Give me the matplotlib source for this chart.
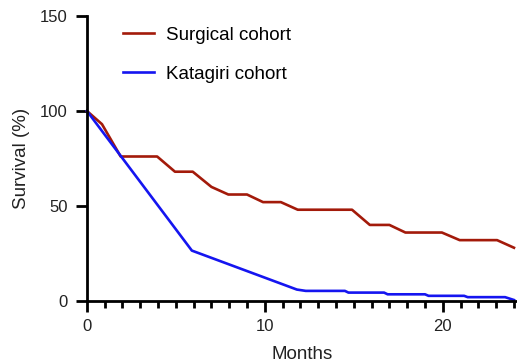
import matplotlib.pyplot as plt
from matplotlib.ticker import MultipleLocator

plt.rcParams['font.family'] = ['Liberation Sans', 'DejaVu Sans']

# Surgical cohort (red)
surg_months = [0, 0.85, 1.9, 3.95, 4.95, 5.95, 7.0, 7.95, 9.0, 9.9, 10.9, 11.85,
               14.9, 15.9, 17.0, 17.9, 19.95, 20.95, 23.05, 24.0]
surg_surv = [100, 93, 76, 76, 68, 68, 60, 56, 56, 52, 52, 48,
             48, 40, 40, 36, 36, 32, 32, 28]

# Katagiri cohort (blue)
kat_months = [0, 5.9, 11.8, 12.3, 14.5, 14.7, 16.7, 16.9, 19.0, 19.2, 21.2, 21.4,
              23.5, 24.0]
kat_surv = [100, 26.5, 6.0, 5.3, 5.3, 4.4, 4.4, 3.5, 3.5, 2.7, 2.7, 2.0,
            2.0, 0.5]

fig = plt.figure(figsize=(5.17, 3.6), dpi=100)
ax = fig.add_axes([0.168, 0.164, 0.832, 0.792])

ax.plot(surg_months, surg_surv, color='#a31a0a', lw=1.9, label='Surgical cohort', clip_on=False)
ax.plot(kat_months, kat_surv, color='#1515f0', lw=1.9, label='Katagiri cohort', clip_on=False)

ax.set_xlim(0, 24.17)
ax.set_ylim(0, 150)
ax.set_xticks([0, 10, 20])
ax.xaxis.set_minor_locator(MultipleLocator(1))
ax.set_yticks([0, 50, 100, 150])

for s in ['top', 'right']:
    ax.spines[s].set_visible(False)
for s in ['left', 'bottom']:
    ax.spines[s].set_linewidth(2)

ax.tick_params(axis='both', which='major', length=8, width=2, labelsize=12,
               colors='black', labelcolor='#222222')
ax.tick_params(axis='x', which='minor', length=5, width=2)
ax.tick_params(axis='x', which='major', pad=5)
ax.tick_params(axis='y', which='major', pad=6)

ax.set_xlabel('Months', fontsize=13.5, color='#222222', labelpad=8.5)
ax.set_ylabel('Survival (%)', fontsize=13.5, color='#222222', labelpad=7)

ax.legend(loc='upper left', bbox_to_anchor=(0.083, 0.963), frameon=False, fontsize=13.5,
          borderpad=0, borderaxespad=0, handlelength=1.7, handletextpad=0.6,
          labelspacing=1.17)

fig.savefig('out.png', dpi=100)
